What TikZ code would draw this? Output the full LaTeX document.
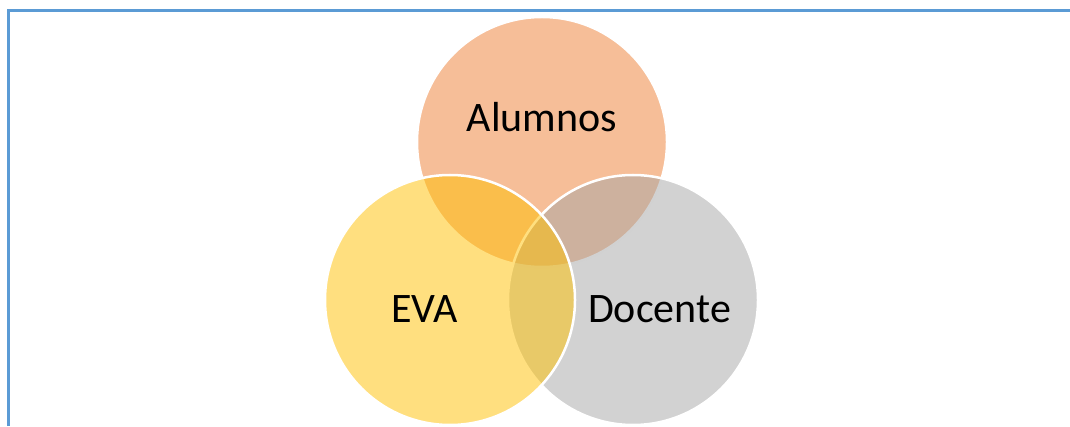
\documentclass[tikz,border=0pt]{standalone}
\usepackage{fontspec}
\setmainfont{Carlito}
\usetikzlibrary{positioning}
\usepackage{xcolor}
\definecolor{framecolor}{HTML}{5B9BD5}
\definecolor{alumnoscolor}{HTML}{ED7D31}
\definecolor{evacolor}{HTML}{FFC000}
\definecolor{docentecolor}{HTML}{A5A5A5}

\begin{document}
\begin{tikzpicture}[x=1pt, y=1pt, thick]

		% Define styles
		\tikzstyle{set} = [circle, draw=white, line width=2.5pt, fill opacity=0.5, minimum size=250pt, inner sep=0pt]
		\tikzstyle{setlabel} = [anchor=base, inner sep=0pt, font=\fontsize{42}{50}\selectfont]

		\useasboundingbox (0,0) rectangle (1070,426);

		% Frame
		\draw[line width=2.2pt, framecolor] (8.5,0) -- (8.5,415.5) -- (1070,415.5);

		% Sets
		\node[set, fill=alumnoscolor] (alumnos) at (542,284) {};
		\node[set, fill=docentecolor] (docente) at (633,126) {};
		\node[set, fill=evacolor] (eva) at (450,126) {};

		% Labels
		\node[setlabel] (alumnoslabel) at (542,294) {Alumnos};
		\node[setlabel] (evalabel) at (424.5,104) {EVA};
		\node[setlabel] (docentelabel) at (659.5,104) {Docente};

\end{tikzpicture}
\end{document}
